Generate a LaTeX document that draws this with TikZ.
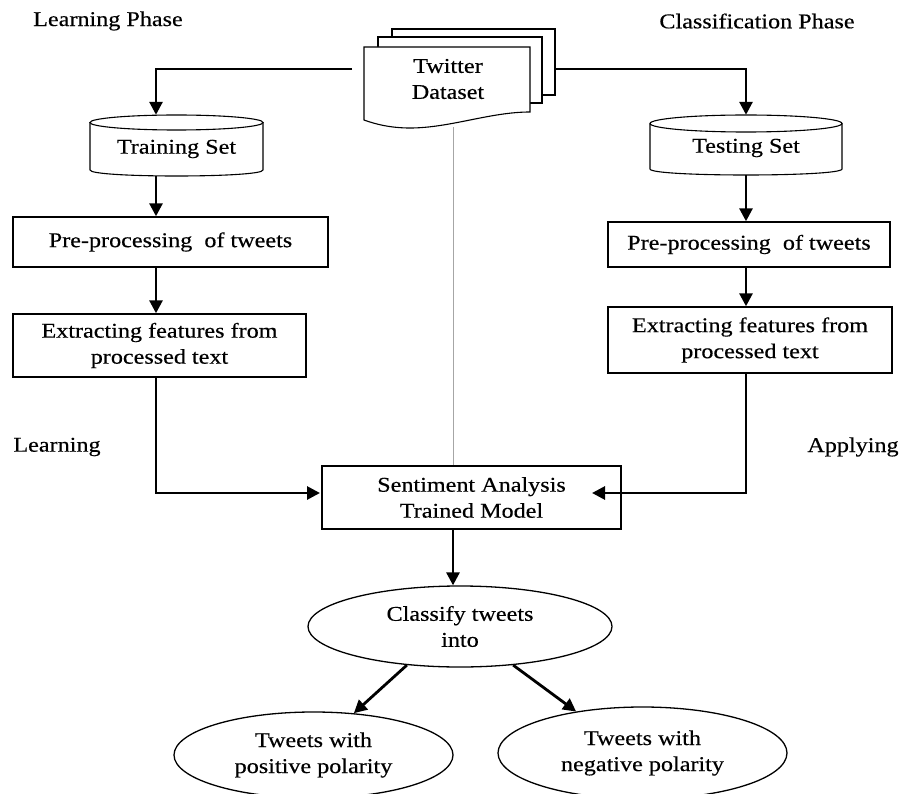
\documentclass[tikz,border=0pt]{standalone}
\usepackage{fontspec}
\setmainfont{Liberation Serif}[FakeStretch=1.15,FakeBold=0.4]
\usetikzlibrary{arrows.meta,shapes.geometric}
\begin{document}
\begin{tikzpicture}[x=1pt,y=-1pt,
  every node/.style={font=\fontsize{21}{26}\selectfont, inner sep=0pt, align=center},
  box/.style={draw, rectangle, line width=1.4pt},
  cylnode/.style={rectangle},
  cylline/.style={line width=1.1pt},
  oval/.style={draw, ellipse, line width=1.3pt},
  docline/.style={line width=1.1pt, fill=white},
  arr/.style={line width=2.8pt, -{Triangle[length=13pt,width=13pt]}},
  guide/.style={line width=1pt, gray!70}]
\useasboundingbox (0,0) rectangle (904,794);

% phase labels
\node (lp) at (108,21) {Learning Phase};
\node (cp) at (757,21) {Classification Phase};
\node (ll) at (57,447) {Learning};
\node (al) at (853,447) {Applying};

% column coordinates
\coordinate (lc) at (156,0);
\coordinate (rc) at (746,0);
\coordinate (mc) at (453,0);

% Twitter dataset stack
\draw[docline] (392,29) rectangle (555,95);
\draw[docline] (378,37) rectangle (542,103);
\draw[docline] (364,47) -- (530,47) -- (530,112)
  .. controls (490,112) and (450,128) .. (410,128)
  .. controls (390,128) and (375,124) .. (364,120) -- cycle;
\node (data) at (448,79) {Twitter\\Dataset};
\coordinate (dl) at (352,69);
\coordinate (dr) at (555,69);
\coordinate (db) at (453,127);

% Training set cylinder
\node[cylnode, minimum width=173pt, minimum height=61pt] (train) at (176.5,145.5) {};
\draw[cylline] (90,122.5) -- (90,170) .. controls (90,178) and (263,178) .. (263,170) -- (263,122.5);
\draw[cylline] (176.5,122.5) ellipse[x radius=86.5, y radius=7.5];
\node at (176.5,149) {Training Set};

% Testing set cylinder
\node[cylnode, minimum width=192pt, minimum height=60pt] (test) at (746,145) {};
\draw[cylline] (650,123.5) -- (650,169) .. controls (650,177) and (842,177) .. (842,169) -- (842,123.5);
\draw[cylline] (746,123.5) ellipse[x radius=96, y radius=8.5];
\node at (746,148) {Testing Set};

% boxes
\node[box, minimum width=315pt, minimum height=50pt] (pre1) at (170.5,242) {Pre-processing\ \ of tweets};
\node[box, minimum width=293pt, minimum height=63pt] (ext1) at (159.5,345.5) {Extracting features from\\processed text};
\node[box, minimum width=282pt, minimum height=45pt] (pre2) at (749,244.5) {Pre-processing\ \ of tweets};
\node[box, minimum width=284pt, minimum height=66pt] (ext2) at (750,340) {Extracting features from\\processed text};
\node[box, minimum width=299pt, minimum height=63pt] (sam) at (471.5,497.5) {Sentiment Analysis\\Trained Model};

% ellipses
\node[oval, minimum width=304pt, minimum height=81pt] (cls) at (460,626.5) {Classify tweets\\into};
\node[oval, minimum width=279pt, minimum height=86pt] (pos) at (313.5,755) {Tweets with\\positive polarity};
\node[oval, minimum width=289pt, minimum height=92pt] (neg) at (642.5,753) {Tweets with\\negative polarity};

% connectors
\coordinate (lin) at (320,493);
\coordinate (rin) at (592,493);
\draw[arr] (dl) -| (lc |- train.north);
\draw[arr] (dr) -| (rc |- test.north);
\draw[guide] (db) -- (mc |- sam.north);
\draw[arr] (lc |- train.south) -- (lc |- pre1.north);
\draw[arr] (lc |- pre1.south) -- (lc |- ext1.north);
\draw[arr] (lc |- ext1.south) |- (lin);
\draw[arr] (rc |- test.south) -- (rc |- pre2.north);
\draw[arr] (rc |- pre2.south) -- (rc |- ext2.north);
\draw[arr] (rc |- ext2.south) |- (rin);
\draw[arr] (mc |- sam.south) -- (mc |- cls.north);
\draw[arr] (cls.216) -- (pos.46);
\draw[arr] (cls.324) -- (neg.148);
\end{tikzpicture}
\end{document}
